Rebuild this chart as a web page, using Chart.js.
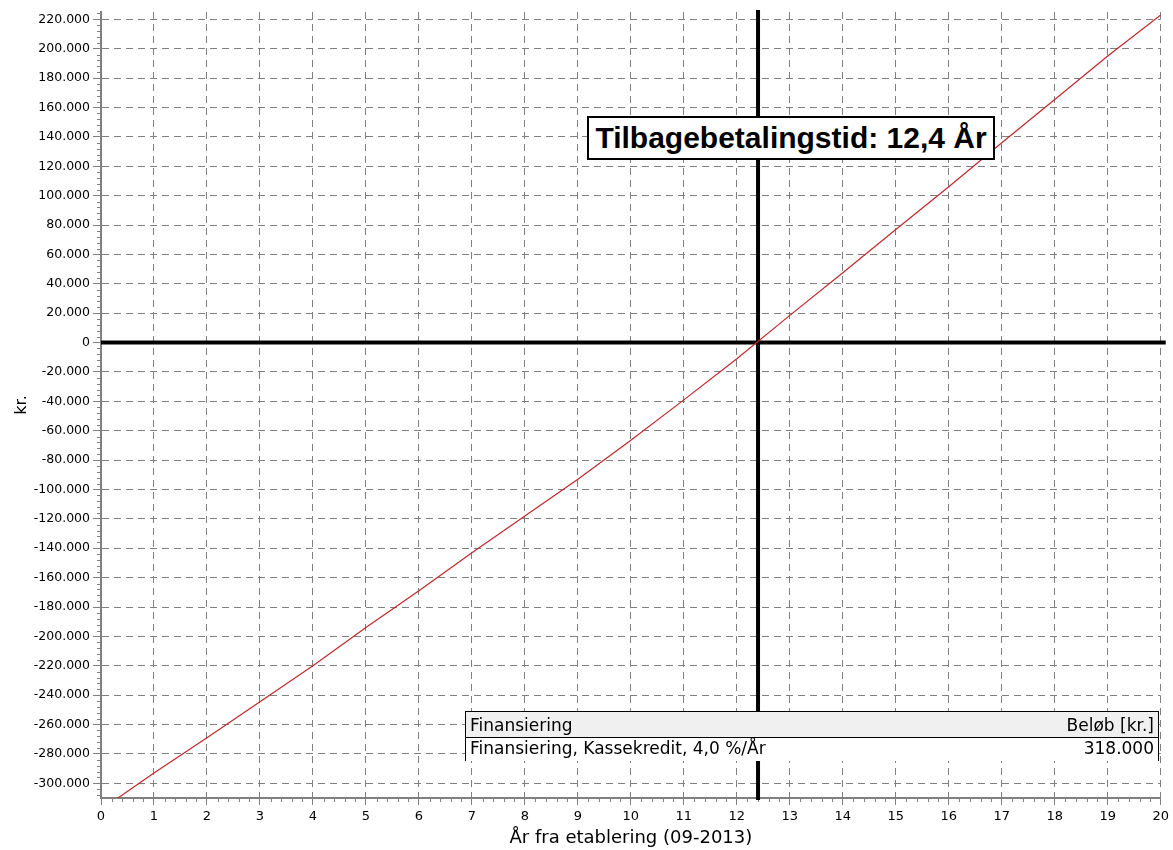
<!DOCTYPE html>
<html>
<head>
<meta charset="utf-8">
<script src="https://cdn.jsdelivr.net/npm/chart.js@4.4.0/dist/chart.umd.min.js"></script>
<style>
html,body{margin:0;padding:0;background:#fff;}
#wrap{position:relative;width:1173px;height:850px;overflow:hidden;background:#fff;}
#c{position:absolute;left:0;top:0;}
#payback{position:absolute;left:587px;top:116px;width:408px;height:44px;box-sizing:border-box;border:2px solid #000;background:#fff;
  font-family:"Liberation Sans",Arial,sans-serif;font-weight:bold;font-size:30px;line-height:40px;text-align:center;color:#000;white-space:nowrap;}
#fin{position:absolute;left:465px;top:711px;width:694px;border-collapse:collapse;font-family:"DejaVu Sans",sans-serif;font-size:17px;color:#000;}
#fin td{padding:0 4px;white-space:nowrap;}
#fin tr.h td{background:#f0f0f0;border-top:1px solid #000;border-bottom:1px solid #000;height:25px;}
#fin tr.r td{background:#fff;height:23px;line-height:20px;vertical-align:top;}
#fin td.l{border-left:1px solid #000;text-align:left;}
#fin td.rt{border-right:1px solid #000;text-align:right;}
</style>
</head>
<body>
<div id="wrap">
<canvas id="c" width="1173" height="850"></canvas>
<div id="payback"></div>
<table id="fin"><tbody></tbody></table>
</div>
<script>
// ---- data ----
const years = [0,1,2,3,4,5,6,7,8,9,10,11,12,13,14,15,16,17,18,19,20];
const cumulativeKr = [-318000,-293000,-269000,-244500,-220000,-194000,-169000,-143000,-118000,-93000,-66500,-39000,-11000,18500,47500,77000,106000,136000,165500,195000,223000];
const xTickValues = [0,1,2,3,4,5,6,7,8,9,10,11,12,13,14,15,16,17,18,19,20];
const yTickValues = [-300000,-280000,-260000,-240000,-220000,-200000,-180000,-160000,-140000,-120000,-100000,-80000,-60000,-40000,-20000,0,20000,40000,60000,80000,100000,120000,140000,160000,180000,200000,220000];
const paybackYear = 12.4;
const paybackLabel = 'Tilbagebetalingstid: 12,4 År';
const tableHeader = ['Finansiering','Beløb [kr.]'];
const tableRows = [['Finansiering, Kassekredit, 4,0 %/År','318.000']];
const xTitle = 'År fra etablering (09-2013)';
const yTitle = 'kr.';

// ---- overlays ----
document.getElementById('payback').textContent = paybackLabel;
const tb = document.querySelector('#fin tbody');
const mkRow = (cells, cls) => {
  const tr = document.createElement('tr'); tr.className = cls;
  const a = document.createElement('td'); a.className = 'l'; a.textContent = cells[0];
  const b = document.createElement('td'); b.className = 'rt'; b.textContent = cells[1];
  tr.appendChild(a); tr.appendChild(b); tb.appendChild(tr);
};
mkRow(tableHeader, 'h');
tableRows.forEach(r => mkRow(r, 'r'));

function fmt(v){
  const s = String(Math.abs(Math.round(v))).replace(/\B(?=(\d{3})+(?!\d))/g,'.');
  return (v < 0 ? '-' : '') + s;
}

const GRID = '#808080';

const extrasPlugin = {
  id: 'extras',
  beforeDatasetsDraw(chart){
    const {ctx, chartArea:a, scales:{x, y}} = chart;
    ctx.save();
    // minor ticks
    ctx.strokeStyle = GRID; ctx.lineWidth = 1;
    ctx.beginPath();
    for (let i = 0; i <= 100; i++) {
      if (i % 5 === 0) continue;
      const px = Math.round(x.getPixelForValue(i * 0.2)) + 0.5;
      ctx.moveTo(px, a.bottom); ctx.lineTo(px, a.bottom + 4);
    }
    for (let v = -308000; v <= 224000; v += 4000) {
      if (v % 20000 === 0) continue;
      const py = Math.round(y.getPixelForValue(v)) + 0.5;
      ctx.moveTo(a.left - 4, py); ctx.lineTo(a.left, py);
    }
    ctx.stroke();
    // thick zero line and payback line
    ctx.strokeStyle = '#000'; ctx.lineWidth = 4;
    const y0 = y.getPixelForValue(0);
    ctx.beginPath(); ctx.moveTo(a.left, y0); ctx.lineTo(a.right + 5, y0); ctx.stroke();
    const xp = x.getPixelForValue(paybackYear);
    ctx.beginPath(); ctx.moveTo(xp, a.top - 2); ctx.lineTo(xp, a.bottom + 2); ctx.stroke();
    ctx.restore();
  }
};

const FONT = '"DejaVu Sans", sans-serif';

new Chart(document.getElementById('c'), {
  type: 'line',
  data: {
    datasets: [{
      data: years.map((yr, i) => ({x: yr, y: cumulativeKr[i]})),
      borderColor: '#c0282c',
      borderWidth: 1.2,
      pointRadius: 0,
      tension: 0,
      fill: false
    }]
  },
  plugins: [extrasPlugin],
  options: {
    responsive: false,
    animation: false,
    devicePixelRatio: 1,
    layout: {padding: {left: 0, right: 11, top: 12, bottom: 0}},
    plugins: {legend: {display: false}, tooltip: {enabled: false}, title: {display: false}},
    scales: {
      x: {
        type: 'linear', min: 0, max: 20,
        afterBuildTicks: s => { s.ticks = xTickValues.map(v => ({value: v})); },
        afterFit: s => { s.height = 52; },
        grid: {color: GRID, lineWidth: 1, drawTicks: true, tickLength: 7, tickColor: GRID, tickWidth: 1},
        border: {display: true, color: GRID, width: 2, dash: [7, 5]},
        ticks: {color: '#000', font: {family: FONT, size: 13}, padding: 4, maxRotation: 0, autoSkip: false},
        title: {display: true, text: xTitle, color: '#000', font: {family: FONT, size: 18}, padding: {top: 0, bottom: 1}}
      },
      y: {
        type: 'linear', min: -310000, max: 225000,
        afterBuildTicks: s => { s.ticks = yTickValues.map(v => ({value: v})); },
        afterFit: s => { s.width = 101; },
        grid: {color: GRID, lineWidth: 1, drawTicks: true, tickLength: 8, tickColor: GRID, tickWidth: 1},
        border: {display: true, color: GRID, width: 2, dash: [7, 5]},
        ticks: {color: '#000', font: {family: FONT, size: 12.5}, padding: 3, autoSkip: false, callback: v => fmt(v)},
        title: {display: true, text: yTitle, color: '#000', font: {family: FONT, size: 16}, padding: {top: 12, bottom: 0}}
      }
    }
  }
});
</script>
</body>
</html>
